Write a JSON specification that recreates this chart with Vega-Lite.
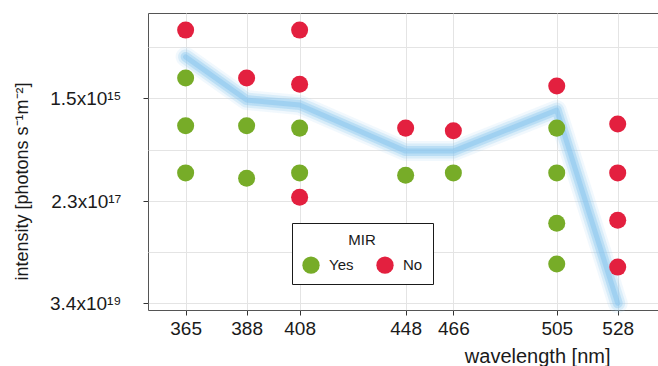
{
  "$schema": "https://vega.github.io/schema/vega-lite/v6.json",
  "width": 510,
  "height": 297,
  "autosize": {"type": "none"},
  "padding": {"left": 148, "top": 13, "right": 0, "bottom": 56},
  "background": "white",
  "config": {
    "view": {"stroke": "#555555", "strokeWidth": 1},
    "font": "Liberation Sans",
    "axis": {"gridColor": "#e4e4e4", "gridWidth": 1, "domain": false, "tickColor": "#333333", "tickSize": 5, "labelColor": "#1a1a1a", "titleColor": "#1a1a1a", "titleFontWeight": "normal"}
  },
  "datasets": {
    "pts": [
      {"wavelength": 365, "intensity": 5.4e13, "MIR": "No"},
      {"wavelength": 365, "intensity": 5.6e14, "MIR": "Yes"},
      {"wavelength": 365, "intensity": 5.8e15, "MIR": "Yes"},
      {"wavelength": 365, "intensity": 5.8e16, "MIR": "Yes"},
      {"wavelength": 388, "intensity": 5.6e14, "MIR": "No"},
      {"wavelength": 388, "intensity": 5.8e15, "MIR": "Yes"},
      {"wavelength": 388, "intensity": 7.5e16, "MIR": "Yes"},
      {"wavelength": 408, "intensity": 5.4e13, "MIR": "No"},
      {"wavelength": 408, "intensity": 7.6e14, "MIR": "No"},
      {"wavelength": 408, "intensity": 6.5e15, "MIR": "Yes"},
      {"wavelength": 408, "intensity": 5.8e16, "MIR": "Yes"},
      {"wavelength": 408, "intensity": 1.9e17, "MIR": "No"},
      {"wavelength": 448, "intensity": 6.5e15, "MIR": "No"},
      {"wavelength": 448, "intensity": 6.5e16, "MIR": "Yes"},
      {"wavelength": 466, "intensity": 7.4e15, "MIR": "No"},
      {"wavelength": 466, "intensity": 5.8e16, "MIR": "Yes"},
      {"wavelength": 505, "intensity": 8.3e14, "MIR": "No"},
      {"wavelength": 505, "intensity": 6.5e15, "MIR": "Yes"},
      {"wavelength": 505, "intensity": 5.8e16, "MIR": "Yes"},
      {"wavelength": 505, "intensity": 6.8e17, "MIR": "Yes"},
      {"wavelength": 505, "intensity": 5.0e18, "MIR": "Yes"},
      {"wavelength": 528, "intensity": 5.3e15, "MIR": "No"},
      {"wavelength": 528, "intensity": 5.8e16, "MIR": "No"},
      {"wavelength": 528, "intensity": 5.9e17, "MIR": "No"},
      {"wavelength": 528, "intensity": 5.8e18, "MIR": "No"}
    ],
    "thr": [
      {"wavelength": 365, "intensity": 2.0e14},
      {"wavelength": 388, "intensity": 1.65e15},
      {"wavelength": 408, "intensity": 2.1e15},
      {"wavelength": 448, "intensity": 2.0e16},
      {"wavelength": 466, "intensity": 2.0e16},
      {"wavelength": 505, "intensity": 2.7e15},
      {"wavelength": 528, "intensity": 3.4e19}
    ]
  },
  "encoding": {
    "x": {
      "field": "wavelength", "type": "quantitative",
      "scale": {"domain": [350.8, 543.2], "nice": false, "zero": false},
      "axis": {
        "values": [365, 388, 408, 448, 466, 505, 528],
        "title": "wavelength [nm]",
        "labelFontSize": 19, "labelPadding": 4, "labelFlush": false,
        "titleFontSize": 20, "titleX": 462, "titleY": 52, "titleAlign": "right", "titleBaseline": "alphabetic"
      }
    },
    "y": {
      "field": "intensity", "type": "quantitative",
      "scale": {"type": "log", "domain": [2.34e13, 4.72e19], "reverse": true, "nice": false, "zero": false},
      "axis": {
        "values": [1.21e14, 1.5e15, 1.857e16, 2.3e17, 2.797e18, 3.4e19],
        "labelExpr": "datum.value == 1.5e15 ? '1.5x10¹⁵' : datum.value == 2.3e17 ? '2.3x10¹⁷' : datum.value == 3.4e19 ? '3.4x10¹⁹' : ''",
        "tickColor": {"condition": {"test": "datum.value == 1.5e15 || datum.value == 2.3e17 || datum.value == 3.4e19", "value": "#333333"}, "value": "transparent"},
        "title": "intensity [photons s⁻¹m⁻²]",
        "labelFontSize": 19, "labelPadding": 22,
        "titleFontSize": 18, "titleAngle": -90, "titleX": -126, "titleY": 168, "titleAlign": "center", "titleBaseline": "middle"
      }
    }
  },
  "layer": [
    {"data": {"name": "thr"}, "mark": {"type": "line", "color": "#9fd2f3", "strokeWidth": 20, "opacity": 0.15, "strokeJoin": "round", "strokeCap": "round"}},
    {"data": {"name": "thr"}, "mark": {"type": "line", "color": "#94ccf1", "strokeWidth": 15, "opacity": 0.25, "strokeJoin": "round", "strokeCap": "round"}},
    {"data": {"name": "thr"}, "mark": {"type": "line", "color": "#8cc8ef", "strokeWidth": 10, "opacity": 0.4, "strokeJoin": "round", "strokeCap": "round"}},
    {"data": {"name": "thr"}, "mark": {"type": "line", "color": "#86c4ee", "strokeWidth": 5, "opacity": 0.5, "strokeJoin": "round", "strokeCap": "round"}},
    {
      "data": {"name": "pts"},
      "mark": {"type": "point", "filled": true, "shape": "circle", "size": 290, "opacity": 1},
      "encoding": {
        "color": {
          "field": "MIR", "type": "nominal",
          "scale": {"domain": ["Yes", "No"], "range": ["#77ac28", "#e3203f"]},
          "legend": {
            "orient": "none", "legendX": 144, "legendY": 210, "direction": "horizontal",
            "title": "MIR", "titleAnchor": "middle", "titleFontSize": 15, "titleFontWeight": "normal", "titleColor": "#1a1a1a", "titlePadding": 8,
            "labelFontSize": 15, "labelColor": "#1a1a1a", "labelOffset": 9,
            "symbolSize": 300, "symbolType": "circle", "symbolStrokeWidth": 0,
            "columnPadding": 22, "padding": 10,
            "strokeColor": "#1a1a1a", "fillColor": "white"
          }
        }
      }
    }
  ]
}
